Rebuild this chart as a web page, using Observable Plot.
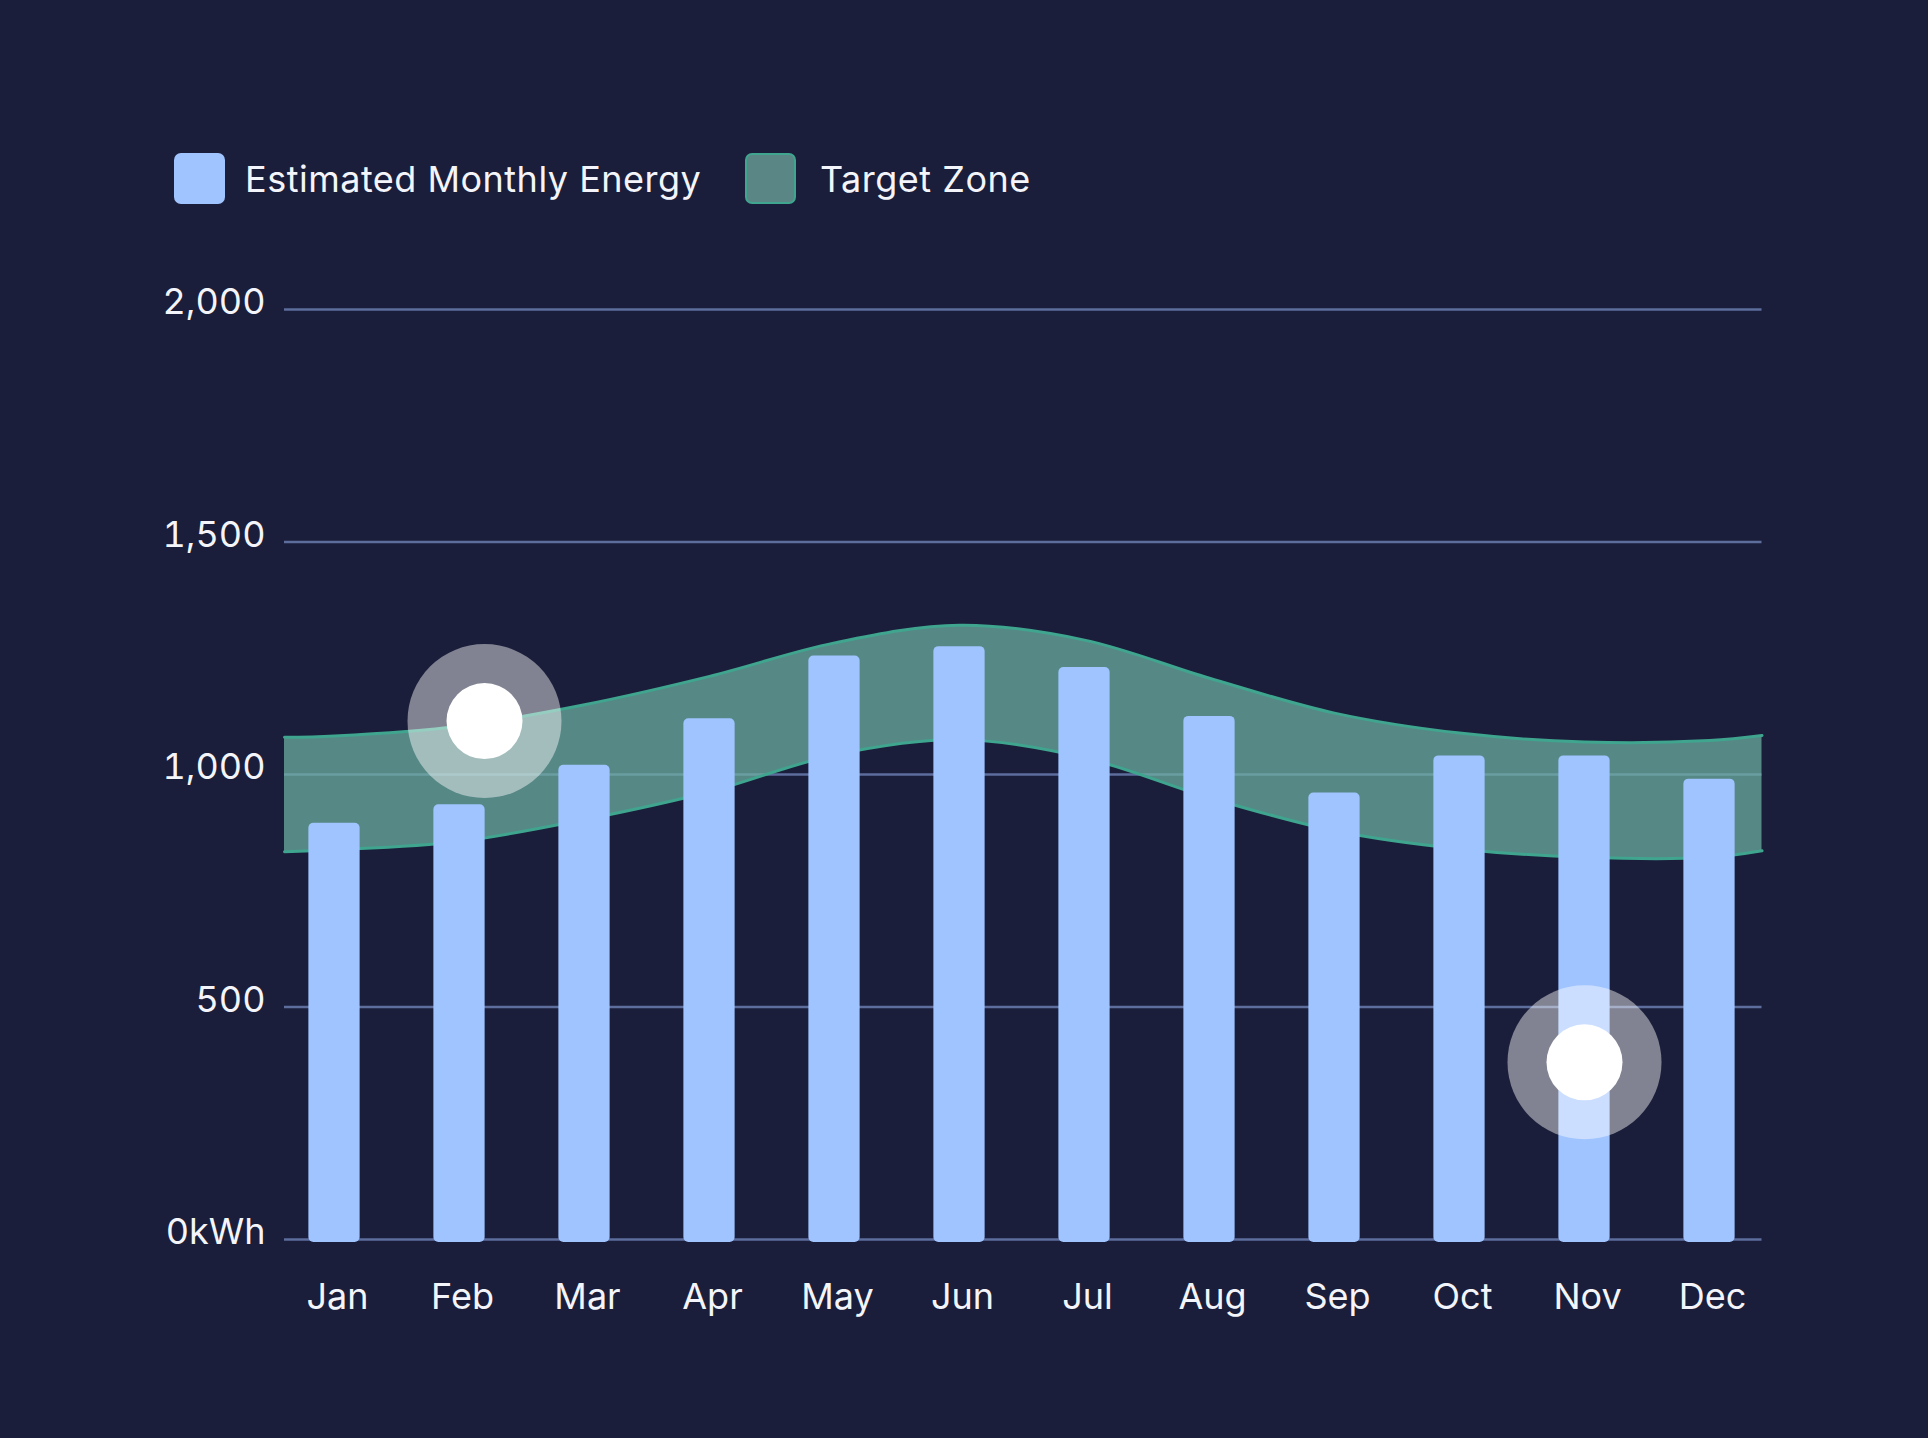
<!DOCTYPE html>
<html><head><meta charset="utf-8">
<script src="https://cdn.jsdelivr.net/npm/d3@7"></script>
<script src="https://cdn.jsdelivr.net/npm/@observablehq/plot@0.6"></script>
<style>
html,body{margin:0;padding:0;background:#1a1e3a;width:1928px;height:1438px;overflow:hidden;font-family:Inter,"Noto Sans",sans-serif;color:#f4f5fa}
#legend{position:relative;height:240px}
.item{position:absolute;top:153px;display:flex;align-items:center;height:51px;font-size:36px;letter-spacing:0.5px;white-space:nowrap}
.sw{width:51px;height:51px;border-radius:7px;box-sizing:border-box;margin-right:20px;flex:none}
#chart svg{display:block}
</style></head><body>
<div id="legend"></div>
<div id="chart"></div>
<script>
// ---- data ----
const months = ["Jan","Feb","Mar","Apr","May","Jun","Jul","Aug","Sep","Oct","Nov","Dec"];
const energy = [895, 935, 1020, 1120, 1255, 1275, 1230, 1125, 960, 1040, 1040, 990];
// target zone: edge of plot, each month, edge of plot (index units)
const zoneX    = [-0.4, 0, 1, 2, 3, 4, 5, 6, 7, 8, 9, 10, 11, 11.42];
const zoneLow  = [834, 838, 856, 903, 963, 1042, 1075, 1036, 950, 879, 840, 822, 822, 836];
const zoneHigh = [1080, 1083, 1104, 1150, 1211, 1283, 1321, 1289, 1207, 1132, 1089, 1070, 1073, 1084];
const yTicks = [0, 500, 1000, 1500, 2000];
const yTickLabels = ["0kWh", "500", "1,000", "1,500", "2,000"];
const markerX = [1.2, 10];
const markerY = [1115, 381];
const gridExtent = [-0.4, 11.42];
const legendLabels = ["Estimated Monthly Energy", "Target Zone"];

// ---- colors ----
const barColor = "#a0c4ff";
const zoneFill = "#6db2a4";
const zoneStroke = "#3fa58e";
const gridColor = "#5d6d9c";

// ---- legend ----
const legend = document.getElementById("legend");
const legendPos = [174, 745];
const swStyles = [
  {background: barColor, border: "none"},
  {background: "#5a8686", border: "2px solid " + zoneStroke}
];
legendLabels.forEach((lab, i) => {
  const it = document.createElement("div");
  it.className = "item";
  it.style.left = legendPos[i] + "px";
  const sw = document.createElement("div");
  sw.className = "sw";
  Object.assign(sw.style, swStyles[i]);
  if (i === 1) sw.style.marginRight = "24px";
  const t = document.createElement("span");
  t.textContent = lab;
  it.appendChild(sw); it.appendChild(t);
  legend.appendChild(it);
});

// ---- tables ----
const bars = energy.map((v, i) => ({i, month: months[i], v}));
const zone = zoneX.map((x, k) => ({x, low: zoneLow[k], high: zoneHigh[k]}));
const markers = markerX.map((x, k) => ({x, y: markerY[k]}));
const curve = "catmull-rom";

const chart = Plot.plot({
  width: 1928,
  height: 1198,
  marginLeft: 271.5,
  marginRight: 156.5,
  marginTop: 69,
  marginBottom: 199,
  style: {background: "none", fontFamily: "Inter, 'Noto Sans', sans-serif", fontSize: "36px", color: "#f4f5fa"},
  x: {domain: [-0.5, 11.5], axis: null, label: null},
  y: {domain: [0, 2000], axis: null, label: null},
  marks: [
    Plot.ruleY(yTicks, {x1: gridExtent[0], x2: gridExtent[1], stroke: gridColor, strokeWidth: 2.6}),
    Plot.areaY(zone, {x: "x", y1: "low", y2: "high", fill: zoneFill, fillOpacity: 0.72, curve}),
    Plot.line(zone, {x: "x", y: "low", stroke: zoneStroke, strokeWidth: 3, curve}),
    Plot.line(zone, {x: "x", y: "high", stroke: zoneStroke, strokeWidth: 3, curve}),
    Plot.rectY(bars, {x1: d => d.i - 0.205, x2: d => d.i + 0.205, y1: 0, y2: "v", fill: barColor, rx: 5, insetBottom: -3}),
    Plot.dot(markers, {x: "x", y: "y", r: 77, fill: "white", fillOpacity: 0.45}),
    Plot.dot(markers, {x: "x", y: "y", r: 38, fill: "white"}),
    Plot.axisY({ticks: yTicks, tickFormat: d => yTickLabels[yTicks.indexOf(d)], tickSize: 0, tickPadding: 6.5, dy: -7, fontSize: 36, fill: "#f4f5fa", label: null}),
    Plot.axisX({ticks: d3.range(months.length), tickFormat: i => months[i], tickSize: 0, tickPadding: 44, dx: 3, fontSize: 36, fill: "#f4f5fa", label: null})
  ]
});
document.getElementById("chart").appendChild(chart);
</script>
</body></html>
